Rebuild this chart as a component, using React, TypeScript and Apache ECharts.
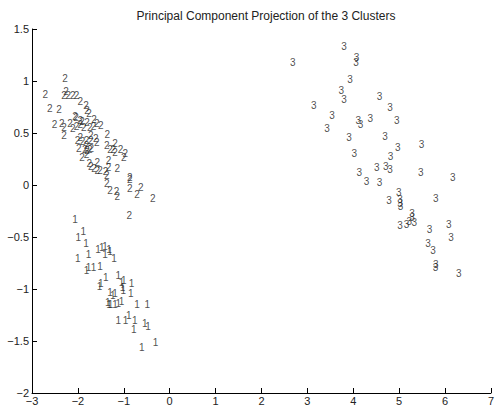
import React, { useEffect, useRef } from "react";
import * as echarts from "echarts";

const title = "Principal Component Projection of the 3 Clusters";

const cluster1: [number, number][] = [
  [-2.06, -0.33], [-1.99, -0.5], [-1.88, -0.45], [-1.82, -0.56], [-2.0, -0.71], [-1.77, -0.67],
  [-1.56, -0.62], [-1.48, -0.6], [-1.41, -0.59], [-1.32, -0.62], [-1.41, -0.67], [-1.3, -0.64],
  [-1.21, -0.71], [-1.81, -0.82], [-1.77, -0.79], [-1.66, -0.79], [-1.52, -0.78], [-1.53, -0.98],
  [-1.5, -0.95], [-1.39, -0.89], [-1.12, -0.87], [-1.05, -0.94], [-1.0, -0.92], [-0.83, -0.95],
  [-1.3, -1.03], [-1.24, -1.06], [-1.19, -1.04], [-1.03, -0.99], [-1.01, -1.01], [-0.85, -1.04],
  [-1.35, -1.13], [-1.32, -1.15], [-1.29, -1.15], [-1.19, -1.15], [-1.12, -1.14], [-1.05, -1.12],
  [-0.71, -1.15], [-0.49, -1.15], [-1.12, -1.3], [-0.96, -1.3], [-0.89, -1.25], [-0.76, -1.3],
  [-0.78, -1.39], [-0.54, -1.33], [-0.47, -1.36], [-0.61, -1.56], [-0.31, -1.51],
];

const cluster2: [number, number][] = [
  [-2.28, 1.02], [-2.71, 0.87], [-2.26, 0.9], [-2.3, 0.86], [-2.21, 0.86], [-2.11, 0.86],
  [-2.03, 0.86], [-1.95, 0.8], [-2.61, 0.74], [-2.41, 0.73], [-1.82, 0.76], [-1.8, 0.72],
  [-1.76, 0.69], [-2.51, 0.58], [-2.35, 0.59], [-2.3, 0.55], [-2.3, 0.48], [-2.17, 0.59],
  [-2.04, 0.65], [-1.95, 0.62], [-2.11, 0.54], [-2.03, 0.56], [-1.95, 0.58], [-1.91, 0.61],
  [-1.87, 0.55], [-1.8, 0.6], [-1.74, 0.55], [-1.65, 0.63], [-1.59, 0.59], [-1.5, 0.57],
  [-1.66, 0.56], [-1.36, 0.49], [-2.01, 0.43], [-1.95, 0.46], [-1.9, 0.42], [-1.72, 0.48],
  [-1.72, 0.43], [-1.61, 0.45], [-1.59, 0.41], [-1.81, 0.43], [-1.98, 0.35], [-1.81, 0.38],
  [-1.85, 0.34], [-1.8, 0.33], [-1.74, 0.34], [-1.71, 0.35], [-1.91, 0.26], [-1.81, 0.29],
  [-1.37, 0.38], [-1.3, 0.34], [-1.23, 0.34], [-1.19, 0.4], [-1.19, 0.31], [-1.07, 0.34],
  [-0.97, 0.3], [-1.0, 0.26], [-1.75, 0.21], [-1.72, 0.18], [-1.58, 0.22], [-1.65, 0.16],
  [-1.58, 0.14], [-1.52, 0.14], [-1.4, 0.13], [-1.33, 0.24], [-1.33, 0.17], [-1.14, 0.16],
  [-1.37, 0.09], [-1.37, 0.01], [-1.3, -0.05], [-1.16, -0.06], [-1.14, -0.11], [-0.87, 0.07],
  [-0.87, 0.05], [-0.87, -0.03], [-0.71, -0.09], [-0.63, -0.02], [-0.37, -0.125], [-0.88, -0.29],
  [-2.06, 0.66],
];

const cluster3: [number, number][] = [
  [3.8, 1.33], [4.07, 1.23], [4.06, 1.18], [2.68, 1.18], [3.93, 1.01], [3.74, 0.91],
  [3.8, 0.82], [4.57, 0.85], [3.14, 0.76], [4.8, 0.75], [3.54, 0.67], [4.11, 0.62],
  [4.16, 0.58], [4.37, 0.64], [4.95, 0.62], [3.43, 0.54], [3.91, 0.46], [4.69, 0.47],
  [4.97, 0.36], [5.49, 0.39], [4.02, 0.3], [4.81, 0.27], [4.13, 0.12], [4.51, 0.17],
  [4.71, 0.18], [4.8, 0.15], [5.47, 0.125], [6.17, 0.07], [4.29, 0.03], [4.57, 0.02],
  [4.99, -0.07], [4.78, -0.15], [5.02, -0.14], [5.02, -0.18], [5.03, -0.21], [5.8, -0.13],
  [5.28, -0.27], [5.28, -0.31], [5.22, -0.35], [5.33, -0.36], [5.02, -0.39], [5.16, -0.38],
  [5.66, -0.43], [6.08, -0.375], [6.13, -0.5], [5.63, -0.56], [5.74, -0.63], [5.8, -0.76],
  [5.79, -0.79], [6.3, -0.85],
];

const clusterLabels = ["1", "2", "3"];

const fmt = (v: number) => String(v).replace("-", "\u2212");

export default function App() {
  const ref = useRef<HTMLDivElement>(null);
  useEffect(() => {
    if (!ref.current) return;
    const chart = echarts.init(ref.current, null, { renderer: "svg" });
    const font = "'Liberation Sans', Arial, sans-serif";
    const mk = (data: [number, number][], name: string) => ({
      type: "scatter",
      name,
      data,
      color: "#222",
      symbol: "circle",
      symbolSize: 0,
      itemStyle: { color: "#222" },
      label: {
        show: true,
        position: "inside",
        formatter: name,
        color: "#222",
        textBorderWidth: 0,
        fontSize: 10,
        fontFamily: font,
      },
      silent: true,
    });
    chart.setOption({
      animation: false,
      backgroundColor: "#fff",
      color: ["#222"],
      title: {
        text: title,
        left: 261,
        top: 5,
        textAlign: "center",
        textStyle: { fontSize: 12, fontWeight: "normal", color: "#222", fontFamily: font },
      },
      grid: { left: 32, top: 29, width: 459, height: 364 },
      xAxis: {
        type: "value",
        min: -3,
        max: 7,
        interval: 1,
        axisLine: { show: true, onZero: false, lineStyle: { color: "#000", width: 1 } },
        axisTick: { show: true, inside: true, length: 5, lineStyle: { color: "#000" } },
        axisLabel: { formatter: fmt, color: "#222", fontSize: 11, fontFamily: font, margin: 2 },
        splitLine: { show: false },
      },
      yAxis: {
        type: "value",
        min: -2,
        max: 1.5,
        interval: 0.5,
        axisLine: { show: true, onZero: false, lineStyle: { color: "#000", width: 1 } },
        axisTick: { show: true, inside: true, length: 5, lineStyle: { color: "#000" } },
        axisLabel: { formatter: fmt, color: "#222", fontSize: 11, fontFamily: font, margin: 3 },
        splitLine: { show: false },
      },
      series: [
        mk(cluster1, clusterLabels[0]),
        mk(cluster2, clusterLabels[1]),
        mk(cluster3, clusterLabels[2]),
      ],
    });
    return () => chart.dispose();
  }, []);
  return (
    <div
      ref={ref}
      style={{ position: "fixed", left: 0, top: 0, width: 497, height: 408, background: "#fff" }}
    />
  );
}
